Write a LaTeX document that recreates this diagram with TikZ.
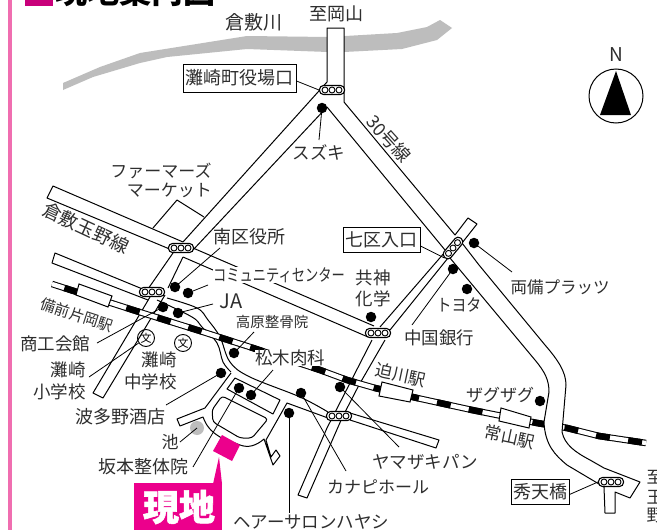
\documentclass[tikz,border=0pt]{standalone}
\usepackage{fontspec}
\setmainfont{Noto Sans CJK JP}
\definecolor{pinkbar}{HTML}{F06EB0}
\definecolor{mag}{HTML}{EC008C}
\definecolor{magd}{HTML}{C8007A}
\definecolor{river}{HTML}{BDBDBD}
\newcommand{\fs}[1]{\fontsize{#1}{#1}\selectfont}
\newcommand{\signal}[4]{\begin{scope}[shift={(#2,#3)},rotate=#4]
\node[capsule,transform shape] (#1) at (0,0) {};
\foreach \d in {-7,0,7} \draw[line width=.9pt,fill=white] (\d,0) circle (3pt);
\end{scope}}
\tikzset{x=1pt,y=-1pt,
 road/.style={line width=1pt,line join=round},
 capsule/.style={draw,fill=white,line width=1.1pt,rounded corners=4pt,minimum width=25pt,minimum height=9pt,inner sep=0pt},
 lbl/.style={inner sep=0pt,text=black!82,font=\fs{17.5}},
 boxed/.style={draw,line width=1pt,fill=white,inner sep=0pt,text=black!82,font=\fs{18},minimum height=26pt},
 spot/.style={circle,fill=black,minimum size=10.5pt,inner sep=0pt},
 lead/.style={line width=.8pt},
 school/.style={circle,draw,line width=.9pt,minimum size=17pt,inner sep=0pt,font=\fs{11}},
 stn/.style={draw,line width=1pt,fill=white}}
\begin{document}
\begin{tikzpicture}
\useasboundingbox (0,0) rectangle (657,530);
\clip (0,0) rectangle (657,530);
\fill[white] (0,0) rectangle (657,530);
\fill[pinkbar] (8,0) rectangle (12,530);
% title
\fill[magd] (25,-10) rectangle (53,6);
\node[inner sep=0pt,font=\fs{32}\bfseries,anchor=west] (title) at (55,-9) {現地案内図};
% river
\fill[river] (63,83) -- (100,67) -- (140,53) -- (247,36) -- (328,37) -- (397,33) -- (427,27) -- (440,20) -- (452,28) -- (437,40) -- (402,49) -- (344,52) -- (328,52) -- (247,49) -- (167,57) -- (140,63) -- (93,77) -- (63,90) -- cycle;
% north arrow
\draw[line width=1pt] (616,96) circle (27pt);
\fill[black] (616,71) -- (631,115) -- (600,115) -- cycle;
\node[lbl,font=\fs{19}] (north) at (616,55) {N};
% road to Okayama
\fill[white] (327,28) rectangle (344,102);
\draw[road] (183,242) -- (327,82) -- (327,28) -- (344,28) -- (344,102) -- (455,235) -- (468,218) -- (477,224) -- (462,243);
\draw[road] (193,250) -- (327,107) -- (445,250);
% Farmers building
\draw[road] (153,228) -- (177,200) -- (204,217);
% Kurashiki-Tamano line
\draw[road] (183,242) -- (53,186) -- (47,198) -- (172,250);
\draw[road] (193,248) -- (374,326);
\draw[road] (183,257) -- (368,337);
% south road
\draw[road] (173,253) -- (148,289);
\draw[road] (150,297) -- (93,393) -- (103,398) -- (165,295);
\draw[road] (183,257) -- (168,288);
% Bizen road
\draw[road] (145,290) -- (55,253) -- (52,263) -- (148,300);
% diagonal road
\draw[road] (445,252) -- (380,327);
\draw[road] (448,258) -- (390,330);
\draw[road] (372,340) -- (327,428) -- (298,495) -- (307,498) -- (342,418) -- (359,385) -- (385,340);
% curved road
\draw[road] plot[smooth,tension=.6] coordinates {(167,298) (197,308) (208,320) (220,337) (230,362) (250,377) (300,397) (328,412)};
\draw[road] plot[smooth,tension=.6] coordinates {(157,300) (192,317) (202,327) (217,343) (223,362) (231,372)};
\draw[road] (231,373) -- (205,408) -- (177,419) -- (180,426) -- (203,417) .. controls (206,425) and (210,431) .. (220,437) -- (240,445) .. controls (248,448) and (256,446) .. (264,439) -- (273,465) -- (280,456) -- (276,450) -- (271,457) -- (266,440) -- (287,403) -- (328,418);
\draw[road] (350,413) -- (439,440) -- (436,448) -- (350,420);
% blocks
\draw[road] (235,378) -- (280,400) -- (273,414) -- (227,389) -- cycle;
\draw[road,rounded corners=3pt] (222,396) -- (268,419) -- (252,438) -- (240,438) -- (213,422) -- (212,410) -- cycle;
% railway
\draw[line width=6.5pt] (52,284) -- (133,310) -- (197,330) -- (253,348) -- (320,370) -- (347,380) -- (375,388) -- (417,398) -- (472,410) -- (537,423) -- (567,428) -- (599,436) -- (646,443);
\draw[white,line width=4.4pt] (52,284) -- (133,310) -- (197,330) -- (253,348) -- (320,370) -- (347,380) -- (375,388) -- (417,398) -- (472,410) -- (537,423) -- (567,428) -- (599,436) -- (646,443);
\draw[line width=6.5pt,dash pattern=on 14pt off 18.5pt,dash phase=19.5pt] (52,284) -- (133,310) -- (197,330) -- (253,348) -- (320,370) -- (347,380) -- (375,388) -- (417,398) -- (472,410) -- (537,423) -- (567,428) -- (599,436) -- (646,443);
% stations
\draw[stn] (79,284) -- (112,296) -- (108,307) -- (76,295) -- cycle;
\draw[stn] (382,382) -- (413,390) -- (410,402) -- (379,396) -- cycle;
\draw[stn] (501,408) -- (531,417) -- (529,428) -- (499,421) -- cycle;
% right road, passing over the railway
\draw[road,fill=white] (450,258) -- (535,360) .. controls (545,372) and (549,380) .. (549,392) -- (544,422) .. controls (545,445) and (555,455) .. (567,465) -- (604,487) -- (605,513) -- (615,513) -- (615,492) -- (630,498) -- (640,482) -- (604,468) -- (590,460) .. controls (575,452) and (565,445) .. (562,432) -- (566,385) .. controls (566,372) and (558,360) .. (545,345) -- (479,265) -- (462,243);
% signals
\signal{sigA}{332}{90}{0}
\signal{sigB}{181}{248}{0}
\signal{sigC}{152}{292}{0}
\signal{sigD}{378}{333}{0}
\signal{sigE}{339}{416}{0}
\signal{sigF}{611}{482}{0}
\signal{sigG}{453}{248}{50}
% labels that mask what runs behind them
\node[lbl,fill=white] (l12) at (279,275) {\fontsize{17}{17}\selectfont\scalebox{.78}[1]{コミュニティセンター}};
\node[lbl,fill=white] (l15) at (290,358) {松木肉科};
% spots
\node[spot] (suzuki) at (322,108) {};
\node[spot] (ryobi) at (474,243) {};
\node[spot] (ginko) at (453,269) {};
\node[spot] (toyota) at (467,289) {};
\node[spot] (kyoshin) at (371,317) {};
\node[spot] (yamazaki) at (340,387) {};
\node[spot] (kanapi) at (301,393) {};
\node[spot] (zagu) at (540,401) {};
\node[spot] (hair) at (289,413) {};
\node[spot] (matsuki) at (251,395) {};
\node[spot] (sakamoto) at (239,388) {};
\node[spot] (hatano) at (221,373) {};
\node[spot] (takahara) at (234,353) {};
\node[spot] (ja) at (178,313) {};
\node[spot] (shoko) at (163,307) {};
\node[spot] (kuyaku) at (175,287) {};
\node[spot] (comm) at (188,293) {};
\node[circle,fill=river,minimum size=14pt,inner sep=0pt] (ike) at (197,428) {};
\node[school] (bunA) at (146,338) {文};
\node[school] (bunB) at (183,343) {文};
% leaders
\coordinate (eSuzuki) at (319,140);
\coordinate (eRyobi) at (512,272);
\coordinate (eGinko) at (412,325);
\coordinate (eYamazaki) at (399,447);
\coordinate (eKanapi) at (346,471);
\coordinate (eHair) at (289,513);
\coordinate (eMatsuki) at (273,370);
\coordinate (eSakamoto) at (193,467);
\coordinate (eHatano) at (166,405);
\coordinate (eTakahara) at (254,332);
\coordinate (eJa) at (213,304);
\coordinate (eShoko) at (97,343);
\coordinate (eKuyaku) at (220,248);
\coordinate (eComm) at (208,285);
\coordinate (eIke) at (180,442);
\coordinate (eBun) at (89,377);
\foreach \a/\b in {suzuki/eSuzuki,ryobi/eRyobi,ginko/eGinko,yamazaki/eYamazaki,kanapi/eKanapi,hair/eHair,matsuki/eMatsuki,sakamoto/eSakamoto,hatano/eHatano,takahara/eTakahara,ja/eJa,shoko/eShoko,kuyaku/eKuyaku,comm/eComm,ike/eIke}
 \draw[lead] (\a.center) -- (\b);
\draw[lead] (bunA) -- (eBun);
% site
\fill[mag] (222,435) -- (240,445) -- (232,461) -- (213,451) -- cycle;
\fill[mag] (219,457) -- (222,484) -- (213,484) -- cycle;
\node[fill=mag,minimum width=88pt,minimum height=50pt,inner sep=0pt,anchor=north west] (genchi) at (134,483) {};
\node[inner sep=0pt,font=\fs{36}\bfseries\addfontfeature{FakeBold=1.5},text=white] (genchiT) at (179,507) {現地};
% boxed labels
\node[boxed,minimum width=113pt,minimum height=28pt] (yakuba) at (239.5,78) {灘崎町役場口};
\node[boxed,minimum width=77pt,minimum height=25pt] (nana) at (381.5,240) {七区入口};
\node[boxed,minimum width=58pt,minimum height=25pt] (shuten) at (540,491.5) {秀天橋};
\draw[lead] (yakuba.east) ++(0,3) -- (sigA.west);
\draw[lead] (nana.east) ++(0,6) -- (sigG.west);
\draw[lead] (shuten.east) ++(0,3) -- (sigF.west);
% labels
\node[lbl,font=\fs{19}] (l1) at (254,22) {倉敷川};
\node[lbl,font=\fs{18}] (l2) at (336,14) {至岡山};
\node[lbl] (l3) at (319,152) {スズキ};
\node[lbl,font=\fs{18},rotate=-48] (l4) at (389,139) {30号線};
\node[lbl,font=\fs{17}] (l5) at (161,171) {ファーマーズ};
\node[lbl,font=\fs{17},anchor=east] (l6) at (212,190) {マーケット};
\node[lbl,font=\fs{18.5},rotate=-25] (l7) at (86,228) {倉敷玉野線};
\node[lbl,font=\fs{18}] (l8) at (249,237) {南区役所};
\node[lbl,font=\fs{16.5}] (l9) at (560,287) {両備プラッツ};
\node[lbl] (l10) at (373,278) {共神};
\node[lbl] (l11) at (373,299) {化学};
\node[lbl,font=\fs{20}] (l13) at (231,301) {JA};
\node[lbl,font=\fs{14.5}] (l14) at (272,322) {高原整骨院};
\node[lbl] (l16) at (55,344) {商工会館};
\node[lbl,anchor=east] (l17) at (86,370) {灘崎};
\node[lbl,anchor=east] (l18) at (86,392) {小学校};
\node[lbl,anchor=east] (l19) at (177,360) {灘崎};
\node[lbl,anchor=east] (l20) at (177,382) {中学校};
\node[lbl,font=\fs{15},rotate=-18] (l21) at (77,315) {備前片岡駅};
\node[lbl,font=\fs{18}] (l22) at (120,417) {波多野酒店};
\node[lbl,font=\fs{17}] (l23) at (170,442) {池};
\node[lbl,font=\fs{18}] (l24) at (143,467) {坂本整体院};
\node[lbl,anchor=west] (l25) at (233,522) {ヘアーサロンハヤシ};
\node[lbl,font=\fs{17}] (l26) at (378,487) {カナピホール};
\node[lbl] (l27) at (425,462) {ヤマザキパン};
\node[lbl] (l28) at (439,338) {中国銀行};
\node[lbl,font=\fs{17}] (l29) at (459,305) {\scalebox{.88}[1]{トヨタ}};
\node[lbl,font=\fs{17},rotate=-12] (l30) at (401,375) {迫川駅};
\node[lbl,font=\fs{17}] (l31) at (500,395) {ザグザグ};
\node[lbl,font=\fs{17},rotate=-12] (l32) at (510,437) {常山駅};
\node[lbl,font=\fs{17}] (l33) at (655,477) {至};
\node[lbl,font=\fs{17}] (l34) at (655,497) {玉};
\node[lbl,font=\fs{17}] (l35) at (655,515) {野};
\end{tikzpicture}
\end{document}
